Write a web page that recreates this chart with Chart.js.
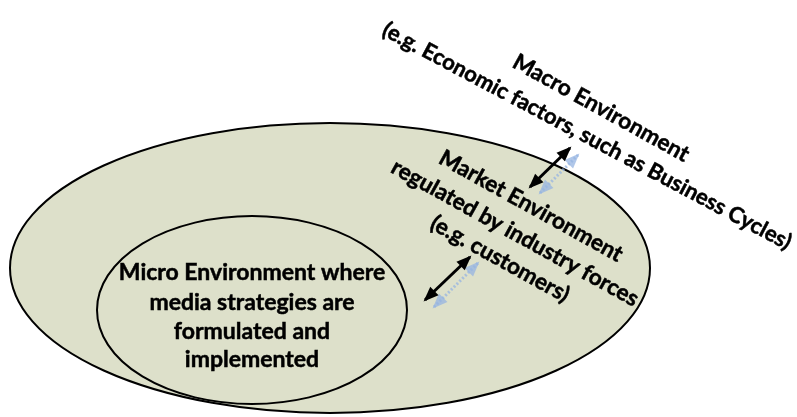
<!DOCTYPE html>
<html>
<head>
<meta charset="utf-8">
<script src="https://cdn.jsdelivr.net/npm/chart.js@4.4.1/dist/chart.umd.min.js"></script>
<style>
  html, body { margin: 0; padding: 0; background: #ffffff; }
  #wrap { width: 797px; height: 417px; }
</style>
</head>
<body>
<div id="wrap"><canvas id="diagram" width="797" height="417"></canvas></div>
<script>
// diagram values (in diagram units, x 0..797, y 0..417 top-down)
const ellipseNames = ["Market", "Micro"];
const ellipseCenterX = [330, 252];
const ellipseCenterY = [268, 310];
const ellipseRadiusX = [320, 155];
const ellipseRadiusY = [145, 94];

const arrowStartX = [530, 425];
const arrowStartY = [187, 300];
const arrowEndX = [570, 470];
const arrowEndY = [148, 257];
const shadowStartX = [540, 434];
const shadowStartY = [193, 307];
const shadowEndX = [578, 478];
const shadowEndY = [155, 263];

const labelLines = [
  "Macro Environment",
  "(e.g. Economic factors, such as Business Cycles)",
  "Market Environment",
  "regulated by industry forces",
  "(e.g. customers)",
  "Micro Environment where",
  "media strategies are",
  "formulated and",
  "implemented"
];
const labelX = [601, 587, 531, 515, 500, 252, 252, 252, 252];
const labelY = [108, 136, 206, 233, 259, 273, 303, 332, 360];
const labelAngle = [29, 28, 29, 29, 29, 0, 0, 0, 0];
const labelSize = [22.5, 22, 22.5, 22.5, 22.5, 23, 23, 23, 23];

const fontFamily = "Lato, 'Open Sans', sans-serif";

// build line datasets for the arrow shafts
const datasets = [];
shadowStartX.forEach((x, i) => {
  datasets.push({
    label: "shadow " + i,
    data: [{ x: x, y: shadowStartY[i] }, { x: shadowEndX[i], y: shadowEndY[i] }],
    showLine: true,
    borderColor: "rgba(150,180,225,0.75)",
    borderWidth: 3,
    borderDash: [2, 2],
    pointRadius: 0,
    arrowHead: "rgba(150,180,225,0.75)"
  });
});
arrowStartX.forEach((x, i) => {
  datasets.push({
    label: "arrow " + i,
    data: [{ x: x, y: arrowStartY[i] }, { x: arrowEndX[i], y: arrowEndY[i] }],
    showLine: true,
    borderColor: "#000000",
    borderWidth: 3,
    pointRadius: 0,
    arrowHead: "#000000"
  });
});

const drawHead = (ctx, x1, y1, x2, y2, color) => {
  const a = Math.atan2(y2 - y1, x2 - x1);
  const len = 13, half = 6;
  ctx.save();
  ctx.fillStyle = color;
  ctx.translate(x2, y2);
  ctx.rotate(a);
  ctx.beginPath();
  ctx.moveTo(2, 0);
  ctx.lineTo(-len, -half);
  ctx.lineTo(-len, half);
  ctx.closePath();
  ctx.fill();
  ctx.restore();
};

const diagramPlugin = {
  id: "diagramPlugin",
  beforeDatasetsDraw(chart) {
    const { ctx, scales } = chart;
    const xs = scales.x, ys = scales.y;
    ellipseNames.forEach((name, i) => {
      const cx = xs.getPixelForValue(ellipseCenterX[i]);
      const cy = ys.getPixelForValue(ellipseCenterY[i]);
      const rx = Math.abs(xs.getPixelForValue(ellipseCenterX[i] + ellipseRadiusX[i]) - cx);
      const ry = Math.abs(ys.getPixelForValue(ellipseCenterY[i] + ellipseRadiusY[i]) - cy);
      ctx.save();
      ctx.beginPath();
      ctx.ellipse(cx, cy, rx, ry, 0, 0, Math.PI * 2);
      ctx.fillStyle = "#dde0ca";
      ctx.fill();
      ctx.lineWidth = 2;
      ctx.strokeStyle = "#000000";
      ctx.stroke();
      ctx.restore();
    });
  },
  afterDatasetsDraw(chart) {
    const { ctx, scales } = chart;
    const xs = scales.x, ys = scales.y;
    // arrow heads at both ends
    chart.data.datasets.forEach((ds) => {
      const p0 = ds.data[0], p1 = ds.data[1];
      const x0 = xs.getPixelForValue(p0.x), y0 = ys.getPixelForValue(p0.y);
      const x1 = xs.getPixelForValue(p1.x), y1 = ys.getPixelForValue(p1.y);
      drawHead(ctx, x0, y0, x1, y1, ds.arrowHead);
      drawHead(ctx, x1, y1, x0, y0, ds.arrowHead);
    });
    // labels
    labelLines.forEach((text, i) => {
      ctx.save();
      ctx.translate(xs.getPixelForValue(labelX[i]), ys.getPixelForValue(labelY[i]));
      ctx.rotate(labelAngle[i] * Math.PI / 180);
      ctx.font = "bold " + labelSize[i] + "px " + fontFamily;
      ctx.fillStyle = "#000000";
      ctx.strokeStyle = "#000000";
      ctx.lineWidth = 0.5;
      ctx.textAlign = "center";
      ctx.textBaseline = "middle";
      ctx.fillText(text, 0, 0);
      ctx.strokeText(text, 0, 0);
      ctx.restore();
    });
  }
};

new Chart(document.getElementById("diagram"), {
  type: "scatter",
  data: { datasets: datasets },
  options: {
    responsive: false,
    maintainAspectRatio: false,
    animation: false,
    layout: { padding: 0 },
    scales: {
      x: { type: "linear", min: 0, max: 797, display: false },
      y: { type: "linear", min: 0, max: 417, reverse: true, display: false }
    },
    plugins: {
      legend: { display: false },
      tooltip: { enabled: false }
    }
  },
  plugins: [diagramPlugin]
});
</script>
</body>
</html>
